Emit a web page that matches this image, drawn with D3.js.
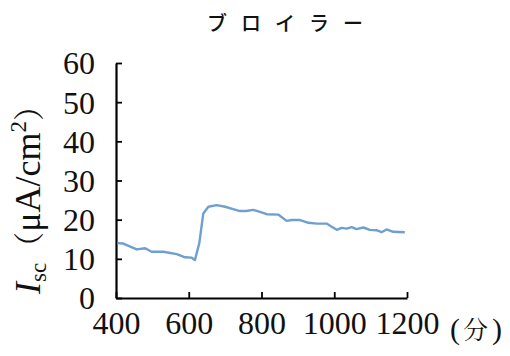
<!DOCTYPE html>
<html>
<head>
<meta charset="utf-8">
<script src="https://cdn.jsdelivr.net/npm/d3@7"></script>
<style>
  html, body { margin: 0; padding: 0; background: #fff; }
  svg { display: block; }
</style>
</head>
<body>
<svg id="chart" width="510" height="356"></svg>
<script>
// Short-circuit current over time (broiler)
const titleText = "ブロイラー";
const timeMin = [404, 420, 457, 480, 498, 530, 567, 590, 608, 617, 629, 640, 654, 677, 700, 722, 741, 758, 777, 796, 814, 846, 869, 883, 906, 929, 952, 979, 993, 1007, 1020, 1034, 1048, 1061, 1080, 1098, 1116, 1130, 1144, 1162, 1194];
const iscValues = [14.0, 13.9, 12.4, 12.7, 11.8, 11.8, 11.2, 10.4, 10.3, 9.7, 14.0, 21.6, 23.3, 23.7, 23.3, 22.7, 22.2, 22.2, 22.5, 22.0, 21.4, 21.3, 19.7, 19.9, 19.9, 19.2, 19.0, 19.0, 18.2, 17.4, 17.9, 17.7, 18.1, 17.6, 18.0, 17.4, 17.3, 16.8, 17.5, 16.9, 16.8];
const xTicks = [400, 600, 800, 1000, 1200];
const yTicks = [0, 10, 20, 30, 40, 50, 60];

const svg = d3.select("#chart");
const plotLeft = 116, plotRight = 407, plotTop = 63, plotBottom = 298;

const x = d3.scaleLinear().domain([400, 1200]).range([plotLeft, plotRight]);
const y = d3.scaleLinear().domain([0, 60]).range([plotBottom, plotTop]);

const serif = "'Liberation Serif', 'DejaVu Serif', serif";
const cjkSans = "'Noto Sans CJK JP', sans-serif";
const cjkSerif = "'Noto Serif CJK JP', 'Noto Sans CJK JP', serif";

// Title
svg.append("text")
  .attr("x", 207).attr("y", 31)
  .style("font-family", cjkSans)
  .style("font-size", "20px")
  .style("font-weight", 500)
  .style("letter-spacing", "14px")
  .attr("fill", "#111")
  .text(titleText);

// Y axis (ticks point inward)
const yAxis = svg.append("g")
  .attr("transform", `translate(${plotLeft},0)`)
  .call(d3.axisLeft(y).tickValues(yTicks).tickFormat(d3.format("d"))
    .tickSizeInner(-6).tickSizeOuter(0).tickPadding(21));
yAxis.select(".domain").attr("stroke", "#000").attr("stroke-width", 2.2);
yAxis.selectAll(".tick line").attr("stroke", "#000").attr("stroke-width", 1.8);
yAxis.selectAll(".tick text")
  .style("font-family", serif).style("font-size", "32px").attr("fill", "#111")
  .attr("dy", "0.34em");

// X axis (ticks point inward)
const xAxis = svg.append("g")
  .attr("transform", `translate(0,${plotBottom})`)
  .call(d3.axisBottom(x).tickValues(xTicks).tickFormat(d3.format("d"))
    .tickSizeInner(-6).tickSizeOuter(0).tickPadding(13));
xAxis.select(".domain").attr("stroke", "#000").attr("stroke-width", 2.2);
xAxis.selectAll(".tick line").attr("stroke", "#000").attr("stroke-width", 1.8);
xAxis.selectAll(".tick text")
  .style("font-family", serif).style("font-size", "32px").attr("fill", "#111")
  .attr("dy", "0.71em");

// X unit label: (分)
const unit = svg.append("text")
  .attr("x", 450).attr("y", 339)
  .style("font-family", serif)
  .style("font-size", "30px")
  .attr("fill", "#111");
unit.append("tspan").text("(");
unit.append("tspan").attr("dx", 3).style("font-family", cjkSerif).style("font-size", "25px").text("分");
unit.append("tspan").attr("dx", 4).text(")");

// Y axis title
const yl = svg.append("text")
  .attr("transform", "translate(40,192) rotate(-90)")
  .attr("text-anchor", "middle")
  .style("font-family", serif)
  .style("font-size", "36px")
  .attr("fill", "#111");
yl.append("tspan").style("font-style", "italic").text("I");
yl.append("tspan").style("font-size", "23px").attr("dy", 6).text("sc");
yl.append("tspan").attr("dy", -6).style("font-family", cjkSerif).style("font-size", "31px").text("（");
yl.append("tspan").text("μA/cm");
yl.append("tspan").style("font-size", "23px").attr("dy", -14).text("2");
yl.append("tspan").attr("dy", 14).style("font-family", cjkSerif).style("font-size", "31px").text("）");

// Series line
const pts = timeMin.map((t, i) => [t, iscValues[i]]);
svg.append("path")
  .datum(pts)
  .attr("fill", "none")
  .attr("stroke", "#6f9fd0")
  .attr("stroke-width", 2.4)
  .attr("stroke-linejoin", "round")
  .attr("d", d3.line().x(d => x(d[0])).y(d => y(d[1])));
</script>
</body>
</html>
